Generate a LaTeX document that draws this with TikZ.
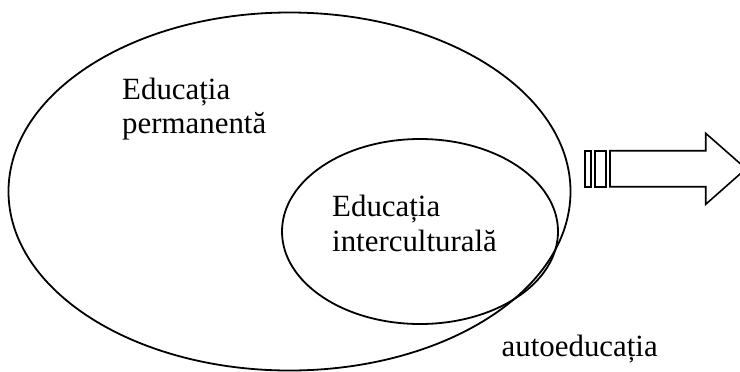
\documentclass[tikz,border=0pt]{standalone}
\usepackage{fontspec}
\setmainfont{Liberation Serif}
\usetikzlibrary{shapes.geometric}
\begin{document}
\begin{tikzpicture}[x=1bp,y=-1bp,
  ring/.style={draw=black,line width=1.8bp,ellipse,inner sep=0pt},
  lbl/.style={anchor=base west,inner sep=0pt,font=\fontsize{31}{35}\selectfont},
  arr/.style={draw=black,line width=1.6bp,fill=white}]
\fill[white] (0,0) rectangle (740,371);
\useasboundingbox (0,0) rectangle (740,371);
\node[ring,minimum width=562bp,minimum height=358bp] (outer) at (289.5,191.5) {};
\node[ring,minimum width=276bp,minimum height=185bp] (inner) at (420,231.5) {};
\node[lbl] (permA) at (122,99) {Educația};
\node[lbl] (permB) at (122,133) {permanentă};
\node[lbl] (intA) at (332,216.5) {Educația};
\node[lbl] (intB) at (332,251.5) {interculturală};
\node[lbl] (auto) at (501.5,356.5) {autoeducația};
\draw[arr] (585,150.7) rectangle (591,186.7);
\draw[arr] (595,150.7) rectangle (605.7,186.7);
\draw[arr] (610,150.7) -- (705.7,150.7) -- (705.7,133.3) -- (746,168.7)
  -- (705.7,204.3) -- (705.7,186.7) -- (610,186.7) -- cycle;
\end{tikzpicture}
\end{document}
